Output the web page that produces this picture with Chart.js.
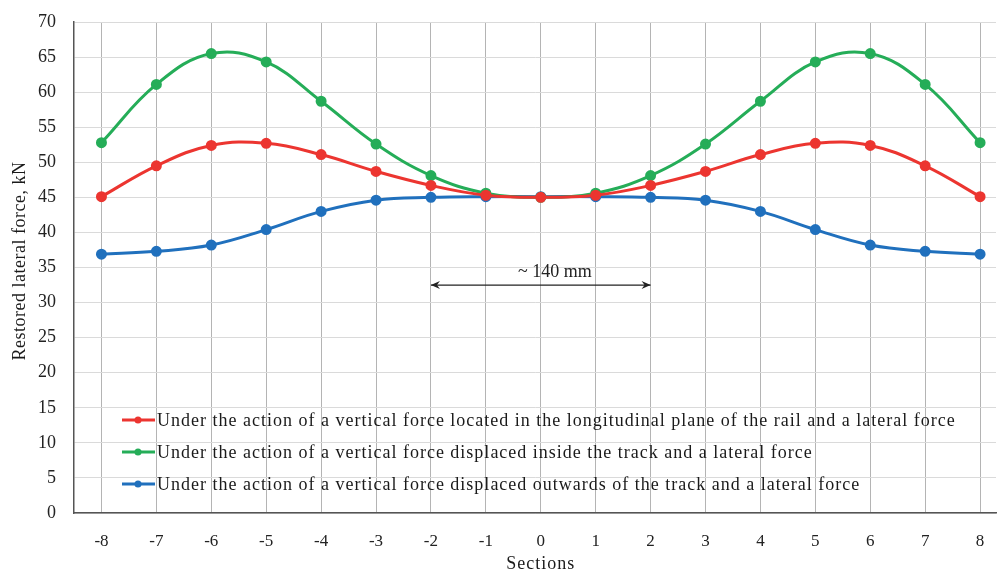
<!DOCTYPE html>
<html>
<head>
<meta charset="utf-8">
<script src="https://cdn.jsdelivr.net/npm/chart.js@4"></script>
<style>
  body { margin: 0; background: #fff; }
  #wrap { width: 1003px; height: 572px; }
</style>
</head>
<body>
<div id="wrap"><canvas id="lineChart"></canvas></div>
<script>
const sections = [-8, -7, -6, -5, -4, -3, -2, -1, 0, 1, 2, 3, 4, 5, 6, 7, 8];
const redValues = [45.1, 49.5, 52.4, 52.7, 51.1, 48.7, 46.7, 45.3, 45.0, 45.3, 46.7, 48.7, 51.1, 52.7, 52.4, 49.5, 45.1];
const greenValues = [52.8, 61.1, 65.5, 64.3, 58.7, 52.6, 48.1, 45.6, 45.0, 45.6, 48.1, 52.6, 58.7, 64.3, 65.5, 61.1, 52.8];
const blueValues = [36.9, 37.3, 38.2, 40.4, 43.0, 44.6, 45.0, 45.1, 45.1, 45.1, 45.0, 44.6, 43.0, 40.4, 38.2, 37.3, 36.9];
const seriesLabels = [
  "Under the action of a vertical force located in the longitudinal plane of the rail and a lateral force",
  "Under the action of a vertical force displaced inside the track and a lateral force",
  "Under the action of a vertical force displaced outwards of the track and a lateral force"
];
const yTicks = [0, 5, 10, 15, 20, 25, 30, 35, 40, 45, 50, 55, 60, 65, 70];
const xTitle = "Sections";
const yTitle = "Restored lateral force, kN";
const spanFrom = -2, spanTo = 2, spanLevel = 32.5, spanText = "~ 140 mm";

const colors = ["#ec3530", "#25ad58", "#2070bd"];
const serif = "'Liberation Serif', 'Times New Roman', serif";

function pts(vals) {
  return vals.map((v, i) => ({ x: sections[i], y: v }));
}

// arrow, axis titles and the legend inside the plot
const extras = {
  id: "extras",
  afterDatasetsDraw(chart) {
    const ctx = chart.ctx;
    const xs = chart.scales.x, ys = chart.scales.y;
    const x1 = xs.getPixelForValue(spanFrom), x2 = xs.getPixelForValue(spanTo);
    const y = ys.getPixelForValue(spanLevel);
    ctx.save();
    ctx.strokeStyle = "#222";
    ctx.fillStyle = "#222";
    ctx.lineWidth = 1.2;
    ctx.beginPath();
    ctx.moveTo(x1, y); ctx.lineTo(x2, y);
    ctx.stroke();
    [[x1, 1], [x2, -1]].forEach(([ax, d]) => {
      ctx.beginPath();
      ctx.moveTo(ax, y);
      ctx.lineTo(ax + d * 9, y - 4);
      ctx.lineTo(ax + d * 6, y);
      ctx.lineTo(ax + d * 9, y + 4);
      ctx.closePath();
      ctx.fill();
    });
    ctx.font = "18px " + serif;
    ctx.textAlign = "center";
    ctx.textBaseline = "alphabetic";
    ctx.fillText(spanText, (x1 + x2) / 2 + 14, y - 8);

    ctx.letterSpacing = "1px";
    // legend
    const lx = 122, ly = [420, 452, 484];
    seriesLabels.forEach((t, i) => {
      ctx.strokeStyle = colors[i];
      ctx.fillStyle = colors[i];
      ctx.lineWidth = 3;
      ctx.beginPath();
      ctx.moveTo(lx, ly[i]); ctx.lineTo(lx + 33, ly[i]);
      ctx.stroke();
      ctx.beginPath();
      ctx.arc(lx + 16, ly[i], 3.5, 0, Math.PI * 2);
      ctx.fill();
      ctx.fillStyle = "#1a1a1a";
      ctx.textAlign = "left";
      ctx.textBaseline = "middle";
      ctx.fillText(t, lx + 35, ly[i] + 1);
    });

    // axis titles
    ctx.textAlign = "center";
    ctx.textBaseline = "middle";
    ctx.fillText(xTitle, xs.getPixelForValue(0), 564);
    ctx.letterSpacing = "0.5px";
    ctx.translate(20, 261);
    ctx.rotate(-Math.PI / 2);
    ctx.fillText(yTitle, 0, 0);
    ctx.restore();
  }
};

const lineChart = new Chart(document.getElementById("lineChart"), {
  type: "line",
  data: {
    datasets: [
      { label: seriesLabels[0], data: pts(redValues) },
      { label: seriesLabels[1], data: pts(greenValues) },
      { label: seriesLabels[2], data: pts(blueValues) }
    ].map((d, i) => Object.assign(d, {
      borderColor: colors[i],
      backgroundColor: colors[i],
      borderWidth: 3,
      pointRadius: 4,
      tension: 0.4,
      fill: false
    }))
  },
  options: {
    responsive: true,
    maintainAspectRatio: false,
    animation: false,
    layout: { padding: { top: 22, right: 0, left: 0, bottom: 0 } },
    plugins: { legend: { display: false }, tooltip: { enabled: false } },
    scales: {
      x: {
        type: "linear",
        min: -8.5,
        max: 8.29,
        afterBuildTicks(axis) { axis.ticks = sections.map(v => ({ value: v })); },
        afterFit(axis) { axis.height = 59; },
        grid: { color: "#b4b4b4", lineWidth: 1, drawTicks: false },
        border: { color: "#555", width: 1.5 },
        ticks: { color: "#222", font: { family: serif, size: 17 }, padding: 18 }
      },
      y: {
        min: 0,
        max: 70,
        afterBuildTicks(axis) { axis.ticks = yTicks.map(v => ({ value: v })); },
        afterFit(axis) { axis.width = 74; axis.paddingTop = 0; axis.paddingBottom = 0; },
        grid: { color: "#dadada", lineWidth: 1, drawTicks: false },
        border: { color: "#555", width: 1.5 },
        ticks: { color: "#222", font: { family: serif, size: 18 }, padding: 18 }
      }
    }
  },
  plugins: [extras]
});
</script>
</body>
</html>
